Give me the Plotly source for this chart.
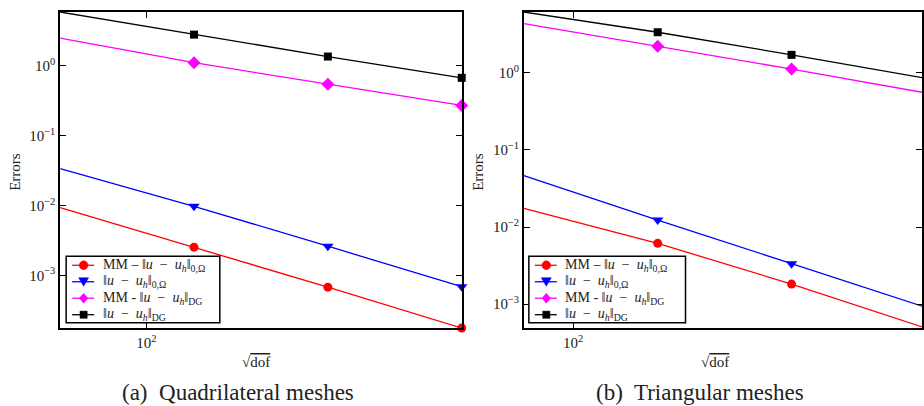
import numpy as np
import plotly.graph_objects as go

# ---------------- data ----------------
x_quad = [64, 128, 256, 512]
x_tri = [77.5, 155, 310, 620]

quad_mm_l2 = [0.00936, 0.00254, 0.00068, 0.000177]
quad_l2 = [0.0338, 0.00977, 0.00262, 0.00069]
quad_mm_dg = [2.49, 1.11, 0.547, 0.271]
quad_dg = [5.9, 2.80, 1.36, 0.674]

tri_mm_l2 = [0.0174, 0.00614, 0.00182, 0.00049]
tri_l2 = [0.0465, 0.0123, 0.00335, 0.00091]
tri_mm_dg = [4.34, 2.21, 1.12, 0.55]
tri_dg = [6.15, 3.36, 1.71, 0.85]

names = [
    "MM\u00a0–\u00a0‖<i>u</i>\u00a0\u00a0−\u00a0\u00a0<i>u</i><sub><i>h</i></sub>‖<sub>0,Ω</sub>",
    "‖<i>u</i>\u00a0\u00a0−\u00a0\u00a0<i>u</i><sub><i>h</i></sub>‖<sub>0,Ω</sub>",
    "MM\u00a0-\u00a0‖<i>u</i>\u00a0\u00a0−\u00a0\u00a0<i>u</i><sub><i>h</i></sub>‖<sub>DG</sub>",
    "‖<i>u</i>\u00a0\u00a0−\u00a0\u00a0<i>u</i><sub><i>h</i></sub>‖<sub>DG</sub>",
]
colors = ["#ff0000", "#0000ff", "#ff00ff", "#000000"]
symbols = ["circle", "triangle-down", "diamond", "square"]
msizes = [9, 10, 10, 8]

y_major = [1e-3, 1e-2, 1e-1, 1e0]
y_major_text = ["10<sup>−3</sup>", "10<sup>−2</sup>", "10<sup>−1</sup>", "10<sup>0</sup>"]
x_major = [100]
x_major_text = ["10<sup>2</sup>"]
captions = ["(a)  Quadrilateral meshes", "(b)  Triangular meshes"]

# ---------------- layout geometry ----------------
W, H = 924, 406
TOP, BOT = 12, 328.3
def pxx(x):
    return x / W
def pyy(y):
    return (BOT - y) / (BOT - TOP)

FONT = "Liberation Serif, DejaVu Serif, serif"
TXT = "#222"

fig = go.Figure()

panels = [
    dict(x=x_quad, ys=[quad_mm_l2, quad_l2, quad_mm_dg, quad_dg], xa="x", ya="y"),
    dict(x=x_tri, ys=[tri_mm_l2, tri_l2, tri_mm_dg, tri_dg], xa="x2", ya="y2"),
]
for p in panels:
    for k in range(4):
        fig.add_trace(go.Scatter(
            x=p["x"], y=p["ys"][k], mode="lines+markers", name=names[k],
            line=dict(color=colors[k], width=1.3),
            marker=dict(symbol=symbols[k], size=msizes[k], color=colors[k]),
            xaxis=p["xa"], yaxis=p["ya"], showlegend=False, cliponaxis=False,
        ))

y_minor = [m * 10.0 ** e for e in range(-4, 1) for m in range(2, 10)]
x_minor = [m * 10.0 ** e for e in range(1, 3) for m in range(2, 10)]

common = dict(type="log", ticks="inside", tickwidth=1, tickcolor="black",
              showgrid=False, zeroline=False)

def y_main(anchor, rng):
    return dict(common, range=rng, anchor=anchor, domain=[0, 1],
                tickvals=y_major, ticktext=y_major_text, ticklen=6,
                showline=True, linecolor="black", linewidth=1.6, mirror="allticks",
                tickfont=dict(family=FONT, size=15, color=TXT))

def y_minor_ax(anchor, over, rng):
    return dict(common, range=rng, anchor=anchor, overlaying=over, side="left",
                tickvals=y_minor, ticklen=3, showticklabels=False,
                showline=False, mirror="allticks")

def x_main(domain, anchor, rng):
    return dict(common, range=rng, domain=domain, anchor=anchor,
                tickvals=x_major, ticktext=x_major_text, ticklen=6,
                showline=True, linecolor="black", linewidth=1.6, mirror="allticks",
                tickfont=dict(family=FONT, size=15, color=TXT))

def x_minor_ax(anchor, over, rng):
    return dict(common, range=rng, anchor=anchor, overlaying=over, side="bottom",
                tickvals=x_minor, ticklen=3, showticklabels=False,
                showline=False, mirror="allticks")

qx0, qx1 = 60.3, 462.7
tx0 = 525.0
dec = (qx1 - qx0) / (np.log10(512) - np.log10(64))
q_xr = [np.log10(64), np.log10(512)]
t_xr = [np.log10(77.5), np.log10(77.5) + (W - tx0) / dec]
q_yr = [np.log10(1.77e-4), np.log10(5.9)]
t_yr = [np.log10(4.9e-4), np.log10(6.15)]

fig.update_layout(
    width=W, height=H, margin=dict(l=0, r=0, t=TOP, b=H - BOT),
    paper_bgcolor="white", plot_bgcolor="white",
    font=dict(family=FONT, color=TXT),
    xaxis=x_main([pxx(qx0), pxx(qx1)], "y", q_xr),
    yaxis=y_main("x", q_yr),
    xaxis2=x_main([pxx(tx0), 1.0], "y2", t_xr),
    yaxis2=y_main("x2", t_yr),
    xaxis3=x_minor_ax("y", "x", q_xr),
    yaxis3=y_minor_ax("x", "y", q_yr),
    xaxis4=x_minor_ax("y2", "x2", t_xr),
    yaxis4=y_minor_ax("x2", "y2", t_yr),
    showlegend=False,
)

# ---------------- legends (box, key line, key marker, text) ----------------
shapes = []
ann = []

def poly(points):
    return "M " + " L ".join(f"{pxx(px)},{pyy(py)}" for px, py in points) + " Z"

for bx, bw in [(66.3, 154), (530, 157)]:
    by0, by1 = 256.5, 323
    shapes.append(dict(type="rect", xref="paper", yref="paper", layer="above",
                       x0=pxx(bx), x1=pxx(bx + bw), y0=pyy(by1), y1=pyy(by0),
                       fillcolor="white", line=dict(color="black", width=1.5)))
    for k in range(4):
        cy = 265.5 + 16.5 * k
        cx = bx + 17.5
        shapes.append(dict(type="line", xref="paper", yref="paper", layer="above",
                           x0=pxx(bx + 6), x1=pxx(bx + 28), y0=pyy(cy), y1=pyy(cy),
                           line=dict(color=colors[k], width=1.3)))
        sym = symbols[k]
        if sym == "circle":
            r = 4.4
            shapes.append(dict(type="circle", xref="paper", yref="paper", layer="above",
                               x0=pxx(cx - r), x1=pxx(cx + r), y0=pyy(cy + r), y1=pyy(cy - r),
                               fillcolor=colors[k], line=dict(color=colors[k], width=0.5)))
        elif sym == "triangle-down":
            shapes.append(dict(type="path", xref="paper", yref="paper", layer="above",
                               path=poly([(cx - 5, cy - 4), (cx + 5, cy - 4), (cx, cy + 4.5)]),
                               fillcolor=colors[k], line=dict(color=colors[k], width=0.5)))
        elif sym == "diamond":
            shapes.append(dict(type="path", xref="paper", yref="paper", layer="above",
                               path=poly([(cx, cy - 5), (cx + 4.3, cy), (cx, cy + 5), (cx - 4.3, cy)]),
                               fillcolor=colors[k], line=dict(color=colors[k], width=0.5)))
        else:
            s = 3.6
            shapes.append(dict(type="rect", xref="paper", yref="paper", layer="above",
                               x0=pxx(cx - s), x1=pxx(cx + s), y0=pyy(cy + s), y1=pyy(cy - s),
                               fillcolor=colors[k], line=dict(color=colors[k], width=0.5)))
        ann.append(dict(x=pxx(bx + 34.5), y=pyy(cy), xref="paper", yref="paper",
                        text=names[k], showarrow=False, xanchor="left", yanchor="middle",
                        font=dict(family=FONT, size=14, color=TXT)))

for cx, cap in [(239, captions[0]), (702, captions[1])]:
    ann.append(dict(x=pxx(cx), y=pyy(393), xref="paper", yref="paper", text=cap,
                    showarrow=False, xanchor="center", yanchor="middle",
                    font=dict(family=FONT, size=23, color=TXT)))
for cx in [257, 717]:
    ann.append(dict(x=pxx(cx), y=pyy(362), xref="paper", yref="paper",
                    text="√<span style='text-decoration:overline'>dof</span>",
                    showarrow=False, xanchor="center", yanchor="middle",
                    font=dict(family=FONT, size=15, color=TXT)))
for cx in [15, 479]:
    ann.append(dict(x=pxx(cx), y=pyy(172), xref="paper", yref="paper", text="Errors",
                    textangle=-90, showarrow=False, xanchor="center", yanchor="middle",
                    font=dict(family=FONT, size=15, color=TXT)))
fig.update_layout(annotations=ann, shapes=shapes)

fig.write_html("out.html", config={"displayModeBar": False},
               post_script="document.body.style.margin='0px';")
